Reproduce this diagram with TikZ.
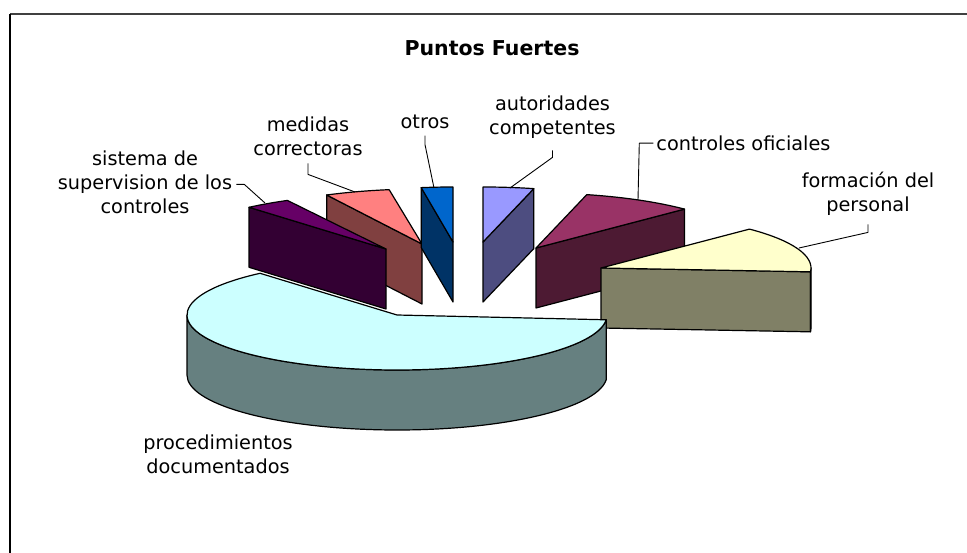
\documentclass[tikz,border=0pt]{standalone}
\usepackage{fontspec}
\setmainfont{DejaVu Sans}
\usetikzlibrary{calc}
\definecolor{purT}{HTML}{660066}\definecolor{purS}{HTML}{330033}
\definecolor{medT}{HTML}{FF8080}\definecolor{medS}{HTML}{804040}
\definecolor{otrT}{HTML}{0066CC}\definecolor{otrS}{HTML}{003366}
\definecolor{autT}{HTML}{9999FF}\definecolor{autS}{HTML}{4D4D80}
\definecolor{ctlT}{HTML}{993366}\definecolor{ctlS}{HTML}{4D1A33}
\definecolor{forT}{HTML}{FFFFCC}\definecolor{forS}{HTML}{808066}
\definecolor{bigT}{HTML}{CCFFFF}\definecolor{bigS}{HTML}{668080}
\definecolor{frameC}{HTML}{404040}
\newcommand\ptop[4]{\filldraw[face, fill=#4] (#1) -- ($(#1)+(#2:210pt and 55pt)$) arc[start angle=#2, end angle=#3, x radius=210pt, y radius=55pt] -- cycle;}
\newcommand\pside[3]{\filldraw[face, fill=#3] (#1) -- ($(#1)+(#2:210pt and 55pt)$) -- ++(0,60) -- ($(#1)+(0,60)$) -- cycle;}
\begin{document}
\begin{tikzpicture}[x=1pt,y=-1pt,line join=round,
  face/.style={draw=black,line width=1.2pt},
  lbl/.style={inner sep=0pt,align=center,font=\fontsize{19.3}{24}\selectfont},
  leader/.style={draw=black,line width=0.9pt}]
\useasboundingbox (0,0) rectangle (967,553);
\fill[white] (0,0) rectangle (967,553);
% frame
\draw[frameC,line width=2.5pt] (10,14) -- (967,14);
\draw[black,line width=1.5pt] (10,14) -- (10,553);
% slice centres
\coordinate (cBig) at (397,315);
\coordinate (cPur) at (386,249);
\coordinate (cMed) at (422,244);
\coordinate (cOtr) at (453,242);
\coordinate (cAut) at (483,242);
\coordinate (cCtl) at (536,248);
\coordinate (cFor) at (601,268);
% slices back to front
\pside{cMed}{117}{medS}\ptop{cMed}{99}{117}{medT}
\pside{cPur}{130.7}{purS}\ptop{cPur}{118}{130.7}{purT}
\pside{cOtr}{98.7}{otrS}\ptop{cOtr}{90}{98.7}{otrT}
\pside{cAut}{76}{autS}\ptop{cAut}{76}{90}{autT}
\pside{cCtl}{45}{ctlS}\ptop{cCtl}{45}{76}{ctlT}
\pside{cFor}{-4}{forS}
\filldraw[face,fill=forS] ($(cFor)+(-4:210pt and 55pt)$) arc[start angle=-4,end angle=0,x radius=210pt,y radius=55pt] -- ++(0,60) arc[start angle=0,end angle=-4,x radius=210pt,y radius=55pt] -- cycle;
\ptop{cFor}{-4}{45}{forT}
\filldraw[face,fill=bigS] ($(cBig)+(180:210pt and 55pt)$) arc[start angle=180,end angle=355,x radius=210pt,y radius=55pt] -- ++(0,60) arc[start angle=355,end angle=180,x radius=210pt,y radius=55pt] -- cycle;
\ptop{cBig}{130.7}{355}{bigT}
% title
\node[inner sep=0pt,anchor=base,font=\fontsize{20.5}{24}\selectfont\bfseries] (title) at (492,56) {Puntos Fuertes};
% labels
\node[lbl,anchor=north] (sist) at (145,148.2) {\strut sistema de\\\strut supervision de los\\\strut controles};
\node[lbl,anchor=north] (med) at (308,115) {\strut medidas\\\strut correctoras};
\node[lbl,anchor=north] (otr) at (425,111.2) {\strut otros};
\node[lbl,anchor=north] (aut) at (552.5,94) {\strut autoridades\\\strut competentes};
\node[lbl,anchor=north] (ctl) at (743.5,134) {\strut controles oficiales};
\node[lbl,anchor=north] (for) at (868,171) {\strut formación del\\\strut personal};
\node[lbl,anchor=north] (proc) at (218,432) {\strut procedimientos\\\strut documentados};
% leader end points on slices
\coordinate (s2) at (265,203);
\coordinate (m2) at (355,192);
\coordinate (o2) at (434,188);
\coordinate (a2) at (510,188);
\coordinate (c2) at (638,200);
\coordinate (f2) at (799,248);
\draw[leader] ([xshift=4pt]sist.east) -- ([xshift=12pt]sist.east) -- (s2);
\draw[leader] (med.south) -- ([yshift=-11pt]med.south) -- (m2);
\draw[leader] (otr.south) -- ([yshift=-9pt]otr.south) -- (o2);
\draw[leader] ([yshift=-8pt]aut.south) -- ([yshift=-15pt]aut.south) -- (a2);
\draw[leader] ([xshift=-3pt,yshift=3pt]ctl.west) -- ([xshift=-17pt,yshift=3pt]ctl.west) -- (c2);
\draw[leader] ([yshift=-5pt]for.south) -- ([yshift=-13pt]for.south) -- (f2);
\end{tikzpicture}
\end{document}
